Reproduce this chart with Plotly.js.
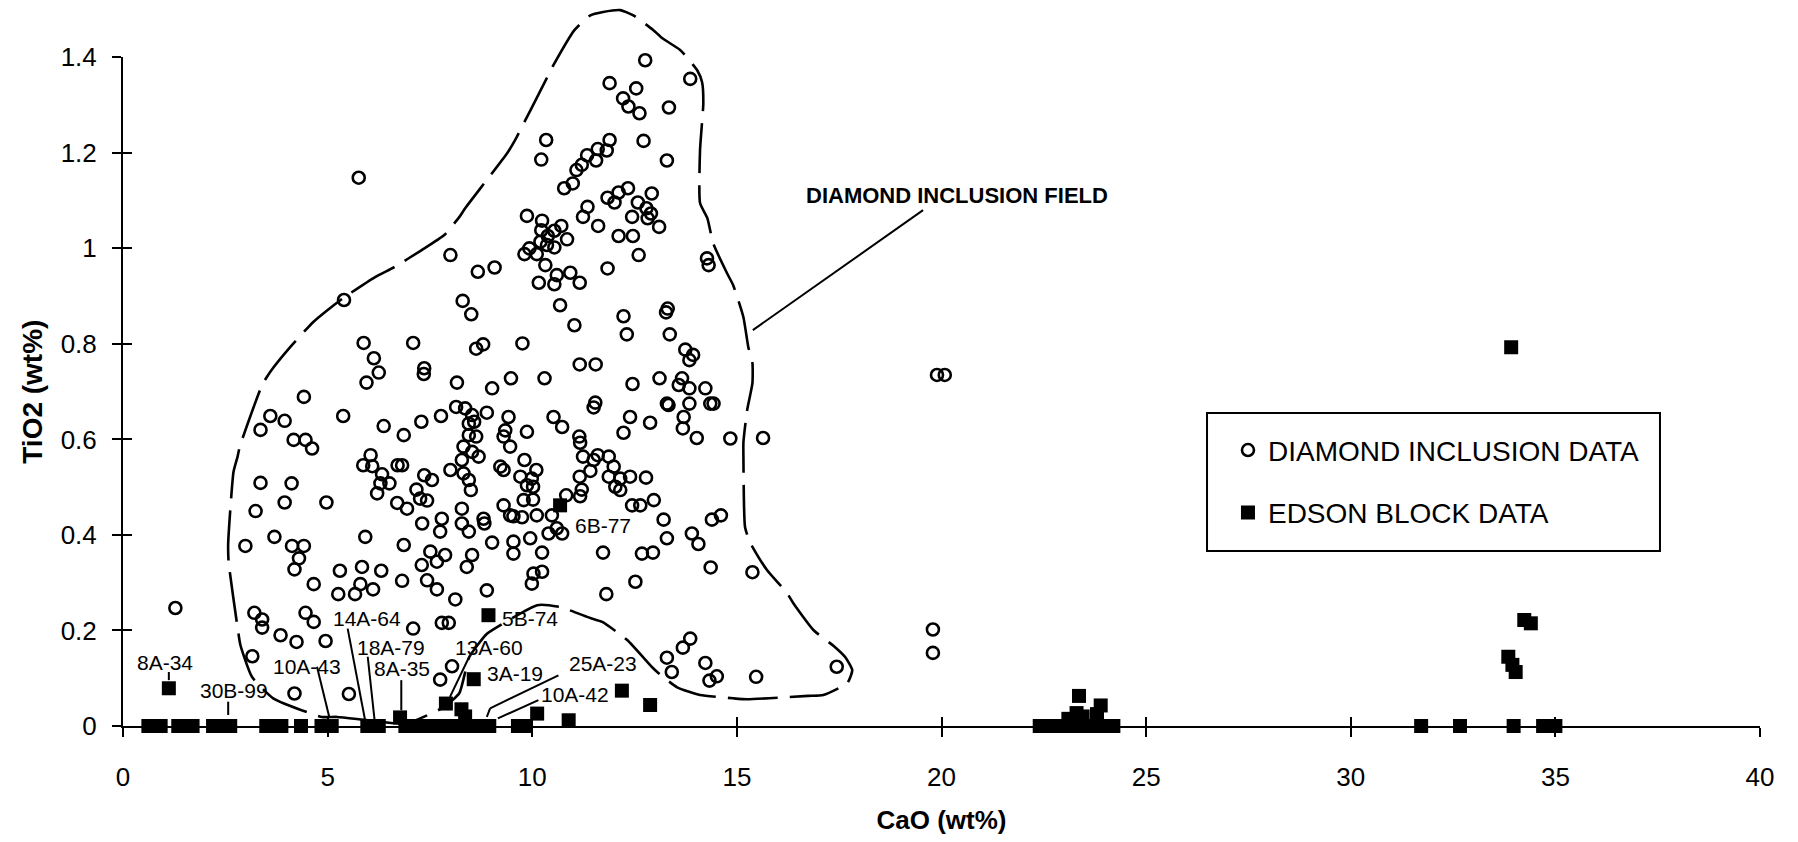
<!DOCTYPE html>
<html><head><meta charset="utf-8">
<script src="https://cdn.plot.ly/plotly-3.0.1.min.js"></script>
<style>html,body{margin:0;padding:0;background:#fff}#chart{width:1798px;height:842px}</style>
</head><body><div id="chart"></div>
<script>
// ---- axis ticks ----
const xTicks = [0,5,10,15,20,25,30,35,40];
const yTicks = [0,0.2,0.4,0.6,0.8,1,1.2,1.4];

// ---- DIAMOND INCLUSION DATA (CaO wt%, TiO2 wt%) ----
const diamondCaO = [
5.76,1.28,19.79,19.79,19.89,20.08,15.64,15.38,15.47,17.44,
12.76,11.89,12.54,12.22,12.35,12.62,13.34,13.86,10.34,10.22,
12.72,13.29,11.89,11.82,11.60,11.34,11.56,11.21,11.08,10.99,
10.78,12.11,12.34,11.84,12.01,12.92,12.58,12.79,12.90,12.44,
12.82,13.10,11.35,11.24,11.61,12.11,12.46,12.60,11.84,14.27,
14.31,9.87,10.24,10.22,10.54,10.71,10.85,10.38,10.20,9.93,
9.81,10.11,10.36,10.54,10.32,10.60,10.93,8.00,8.67,9.08,
10.16,10.54,11.16,8.30,8.51,10.68,11.03,12.23,12.31,13.31,
13.27,13.36,13.74,13.93,13.84,7.09,8.63,8.80,9.76,7.36,
7.35,8.16,9.02,9.48,10.30,11.16,11.55,12.45,13.11,13.66,
13.58,13.84,14.23,14.35,14.43,13.84,13.29,13.33,11.54,11.50,
12.39,12.88,12.23,13.70,13.68,14.02,14.84,10.52,10.73,11.15,
11.17,11.24,11.50,11.60,11.87,11.99,11.87,12.15,12.39,12.78,
12.03,12.15,12.44,12.64,12.97,11.42,11.16,11.21,11.17,10.83,
10.48,10.40,10.60,10.73,9.81,10.10,9.71,9.99,9.87,10.02,
10.02,9.79,10.11,9.75,9.54,9.30,9.46,9.22,9.30,9.42,
9.34,9.30,9.46,9.87,8.89,8.53,8.45,8.58,8.14,8.36,
7.77,7.29,6.86,8.45,8.63,8.32,8.53,8.69,8.28,8.00,
8.32,8.45,8.50,7.36,7.55,7.17,7.26,7.43,6.94,6.82,
8.28,7.79,8.28,8.45,8.81,8.83,7.31,7.75,9.02,9.54,
9.95,9.54,10.24,6.86,7.51,7.87,8.53,11.73,12.68,12.95,
13.21,13.29,13.90,14.06,14.39,14.61,
5.40,5.88,6.13,6.25,5.95,4.42,3.60,3.95,3.36,5.38,6.37,4.17,4.46,4.62,
6.05,5.87,6.09,6.33,6.29,6.51,6.21,6.71,6.70,3.36,
4.12,3.24,3.95,4.97,2.99,3.70,4.13,4.42,4.30,4.19,
4.66,5.92,5.30,5.84,6.31,5.80,6.11,5.67,5.26,6.82,
3.21,3.40,3.40,4.46,4.66,3.85,4.24,4.95,3.16,4.19,
5.52,7.09,
7.67,7.30,7.43,7.67,8.40,10.03,9.99,8.12,8.89,7.79,7.96,8.04,7.75,
10.24,14.36,12.52,11.81,13.29,13.41,13.68,13.86,14.23,14.33,14.51
];
const diamondTiO2 = [
1.148,0.247,0.202,0.153,0.735,0.735,0.603,0.322,0.103,0.124,
1.394,1.346,1.335,1.314,1.297,1.283,1.295,1.355,1.227,1.186,
1.225,1.184,1.227,1.205,1.208,1.195,1.184,1.175,1.164,1.136,
1.126,1.117,1.126,1.106,1.096,1.115,1.096,1.084,1.073,1.066,
1.063,1.045,1.087,1.066,1.047,1.026,1.026,0.986,0.958,0.979,
0.965,1.068,1.058,1.038,1.037,1.047,1.019,1.026,1.014,1.000,
0.988,0.988,1.007,1.002,0.965,0.944,0.949,0.986,0.951,0.960,
0.928,0.925,0.928,0.890,0.862,0.881,0.839,0.858,0.820,0.874,
0.866,0.820,0.788,0.777,0.766,0.802,0.790,0.799,0.801,0.749,
0.737,0.719,0.707,0.728,0.728,0.757,0.757,0.716,0.728,0.728,
0.714,0.707,0.707,0.675,0.675,0.675,0.675,0.672,0.677,0.667,
0.647,0.635,0.614,0.647,0.623,0.603,0.602,0.647,0.626,0.606,
0.593,0.564,0.557,0.567,0.564,0.543,0.522,0.518,0.522,0.520,
0.501,0.494,0.462,0.462,0.473,0.534,0.522,0.495,0.481,0.483,
0.441,0.403,0.414,0.403,0.557,0.536,0.522,0.518,0.504,0.501,
0.474,0.473,0.441,0.437,0.439,0.462,0.441,0.543,0.536,0.647,
0.619,0.606,0.585,0.616,0.656,0.651,0.633,0.637,0.668,0.665,
0.649,0.637,0.609,0.609,0.606,0.585,0.574,0.564,0.557,0.536,
0.529,0.515,0.494,0.525,0.515,0.495,0.476,0.472,0.455,0.546,
0.455,0.434,0.424,0.407,0.434,0.424,0.424,0.407,0.384,0.386,
0.393,0.361,0.363,0.379,0.365,0.358,0.358,0.363,0.361,0.363,
0.432,0.393,0.403,0.381,0.432,0.441,
0.892,0.802,0.770,0.740,0.719,0.689,0.649,0.639,0.620,0.649,0.628,0.599,0.599,0.581,
0.567,0.546,0.544,0.527,0.508,0.508,0.487,0.546,0.467,0.509,
0.508,0.450,0.468,0.468,0.377,0.396,0.377,0.377,0.351,0.328,
0.297,0.396,0.325,0.333,0.325,0.297,0.286,0.276,0.276,0.304,
0.237,0.223,0.206,0.237,0.218,0.190,0.176,0.178,0.146,0.068,
0.067,0.204,
0.344,0.337,0.305,0.286,0.333,0.319,0.298,0.265,0.284,0.216,0.216,0.125,0.097,
0.323,0.332,0.302,0.276,0.143,0.113,0.164,0.183,0.132,0.095,0.104
];

// ---- EDSON BLOCK DATA ----
const edsonCaO = [
0.62,0.78,0.92,1.35,1.55,1.70,2.20,2.40,2.62,3.50,3.68,3.87,4.35,4.85,5.10,5.97,6.15,6.25,
6.90,7.05,7.20,7.35,7.50,7.65,7.80,7.95,8.10,8.25,8.40,8.55,8.70,8.85,8.95,9.65,9.82,
22.40,22.55,22.70,22.85,23.00,23.15,23.30,23.45,23.60,23.75,23.90,24.05,24.20,
31.72,32.67,33.98,34.70,34.85,35.00,
1.12,6.77,7.89,8.27,8.36,8.57,8.93,10.12,10.89,12.19,12.88,10.68,
23.36,23.89,23.30,23.80,23.10,23.45,
33.92,34.24,34.40,33.85,34.03,33.95
];
const edsonTiO2 = [
0,0,0,0,0,0,0,0,0,0,0,0,0,0,0,0,0,0,
0,0,0,0,0,0,0,0,0,0,0,0,0,0,0,0,0,
0,0,0,0,0,0,0,0,0,0,0,0,0,
0,0,0,0,0,0,
0.079,0.018,0.047,0.035,0.020,0.098,0.232,0.026,0.012,0.074,0.044,0.462,
0.063,0.043,0.027,0.025,0.015,0.020,
0.793,0.222,0.215,0.145,0.113,0.128
];

// ---- DIAMOND INCLUSION FIELD outline ----
const fieldCaO = [
6.91,5.98,5.23,4.86,3.67,3.15,2.87,2.82,2.58,2.57,
2.70,2.80,2.85,3.40,3.60,4.09,4.65,4.94,5.38,6.16,
6.63,7.29,7.85,8.22,8.36,9.39,9.58,10.34,10.46,11.03,
11.42,11.73,12.15,12.47,12.96,13.18,13.62,14.03,14.15,14.18,
14.10,14.10,14.28,14.42,14.76,14.91,15.16,15.28,15.38,15.38,
15.25,15.16,15.16,15.20,15.33,15.74,16.23,16.38,16.87,17.40,
17.65,17.82,17.70,17.11,16.74,15.25,14.91,14.10,13.54,13.08,
12.93,12.32,11.71,11.42,10.68,10.12,9.16,8.88,8.46,8.22,
7.85,6.91
];
const fieldTiO2 = [
0.005,0.012,0.019,0.019,0.058,0.103,0.169,0.194,0.344,0.382,
0.532,0.564,0.584,0.714,0.742,0.794,0.846,0.867,0.896,0.940,
0.961,0.996,1.028,1.066,1.084,1.200,1.227,1.354,1.375,1.457,
1.488,1.495,1.499,1.488,1.457,1.440,1.415,1.373,1.348,1.304,
1.206,1.095,1.063,1.011,0.948,0.923,0.856,0.793,0.760,0.718,
0.661,0.594,0.563,0.416,0.383,0.326,0.278,0.257,0.201,0.165,
0.144,0.117,0.090,0.065,0.063,0.056,0.058,0.065,0.081,0.111,
0.123,0.180,0.218,0.226,0.249,0.253,0.208,0.192,0.144,0.069,
0.040,0.005
];

// ---- sample labels ----
const sampleLabels = ['8A-34','30B-99','10A-43','14A-64','18A-79','8A-35','13A-60','5B-74','3A-19','25A-23','10A-42','6B-77'];
const fieldLabel = 'DIAMOND INCLUSION FIELD';

// annotation placement (layout, not data)
const labelPos = [[1.02,0.132],[2.71,0.075],[4.50,0.124],[5.96,0.226],[6.56,0.165],[6.82,0.121],
                  [8.95,0.165],[9.95,0.226],[9.58,0.109],[11.73,0.130],[11.05,0.066],[11.73,0.420]];
const leaders = [
 [1.12,0.113,1.12,0.096],[2.57,0.051,2.57,0.023],[4.74,0.124,5.04,0.019],
 [5.49,0.204,5.92,0.010],[5.98,0.145,6.15,0.010],[6.80,0.096,6.80,0.033],
 [8.46,0.145,7.99,0.061],[10.64,0.106,8.97,0.037],[8.97,0.037,8.89,0.019],
 [10.15,0.054,9.16,0.016],[15.39,0.829,19.55,1.080]
];

const FONT = 'Arial, "Liberation Sans", Helvetica, sans-serif';

const traces = [
  {type:'scatter', mode:'markers', name:'DIAMOND INCLUSION DATA', legendgroup:'a',
   x:diamondCaO, y:diamondTiO2, xaxis:'x', yaxis:'y', cliponaxis:false,
   marker:{symbol:'circle-open', size:12, color:'#000', line:{width:2.6, color:'#000'}}},
  {type:'scatter', mode:'markers', name:'EDSON BLOCK DATA', legendgroup:'b',
   x:edsonCaO, y:edsonTiO2, xaxis:'x', yaxis:'y', cliponaxis:false,
   marker:{symbol:'square', size:14, color:'#000'}},
  {type:'scatter', mode:'lines', x:fieldCaO, y:fieldTiO2, xaxis:'x', yaxis:'y2',
   line:{color:'#000', width:2.6, dash:'50px,12px', shape:'spline', smoothing:0.5},
   showlegend:false, hoverinfo:'skip'},
  {type:'scatter', mode:'markers', x:[], y:[], xaxis:'x3', yaxis:'y', showlegend:false, hoverinfo:'skip'},
  {type:'scatter', mode:'markers', x:[], y:[], xaxis:'x', yaxis:'y3', showlegend:false, hoverinfo:'skip'}
];

const shapes = leaders.map(l => ({type:'line', xref:'x', yref:'y', x0:l[0], y0:l[1], x1:l[2], y1:l[3],
  line:{color:'#000', width:2}}));
// legend frame
shapes.push({type:'rect', xref:'paper', yref:'paper', x0:0.6622, x1:0.9389, y0:0.2427, y1:0.4341,
  line:{color:'#000', width:2}, fillcolor:'rgba(0,0,0,0)'});

const annotations = sampleLabels.map((t,i) => ({text:t, xref:'x', yref:'y', x:labelPos[i][0], y:labelPos[i][1],
  showarrow:false, xanchor:'center', yanchor:'middle', font:{family:FONT, size:21, color:'#000'}}));
annotations.push({text:fieldLabel, xref:'x', yref:'y', x:20.38, y:1.111, showarrow:false,
  xanchor:'center', yanchor:'middle', font:{family:FONT, size:22, color:'#000', weight:'bold'}});

const axCommon = {showgrid:false, zeroline:false, tickcolor:'#000', tickwidth:2, ticklen:9, linecolor:'#000'};

const layout = {
  width:1798, height:842,
  margin:{l:123, r:38, t:5, b:116},
  paper_bgcolor:'#fff', plot_bgcolor:'rgba(0,0,0,0)',
  font:{family:FONT, color:'#000', size:20},
  showlegend:true,
  legend:{x:0.675, y:0.417, xanchor:'left', yanchor:'top', borderwidth:0,
          bgcolor:'rgba(0,0,0,0)', font:{family:FONT, size:28, color:'#000'}, tracegroupgap:23, traceorder:'grouped'},
  xaxis:Object.assign({}, axCommon, {domain:[0,1], range:[0,40], anchor:'y', tickmode:'array', tickvals:xTicks,
    ticks:'outside', showline:true, linewidth:2, tickfont:{size:26}, ticklabelstandoff:18,
    title:{text:'CaO (wt%)', font:{size:26, weight:'bold'}, standoff:20}}),
  xaxis3:Object.assign({}, axCommon, {overlaying:'x', anchor:'y', range:[0,40], tickmode:'array', tickvals:xTicks,
    ticks:'inside', showticklabels:false, showline:false}),
  yaxis:Object.assign({}, axCommon, {domain:[0,0.9274], range:[0,1.4], anchor:'x', tickmode:'array', tickvals:yTicks,
    ticks:'outside', showline:true, linewidth:2, tickfont:{size:26}, ticklabelstandoff:10,
    title:{text:'TiO2 (wt%)', font:{size:28, weight:'bold'}, standoff:10}}),
  yaxis2:{domain:[0,1], range:[0,1.5097], anchor:'x', visible:false, showgrid:false, zeroline:false},
  yaxis3:Object.assign({}, axCommon, {overlaying:'y', anchor:'x', range:[0,1.4], tickmode:'array', tickvals:yTicks,
    ticks:'inside', showticklabels:false, showline:false}),
  shapes:shapes,
  annotations:annotations
};

Plotly.newPlot('chart', traces, layout, {displayModeBar:false, staticPlot:true});
</script>
</body></html>
